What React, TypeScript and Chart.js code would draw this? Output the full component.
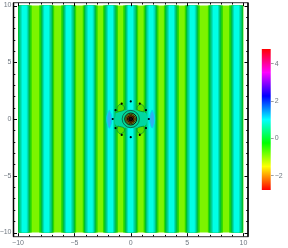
import React, { useEffect, useRef } from "react";
import { Chart, registerables } from "chart.js";

Chart.register(...registerables);

// Stripe centres (plot units)
const cyanCentres = [-9.45, -7.45, -5.5, -3.6, -1.8, 0, 1.8, 3.6, 5.45, 7.5, 9.4];
// Nested contour bands around every cyan centre: half widths and colours (outermost first)
const bandHalfWidths = [0.68, 0.56, 0.46, 0.35, 0.24];
const bandColours = ["#2cdc00", "#00be30", "#00c878", "#00e0b8", "#00ffe6"];
const baseColour = "#7cf400";

// Centre of the plot
const bowtie = [[-1.35, 0.5], [-0.5, 0.78], [0.5, 0.78], [1.35, 0.5], [1.35, -0.5], [0.5, -0.78], [-0.5, -0.78], [-1.35, -0.5]];
const lobes = [
  [[-1.15, 0.62], [-0.6, 0.8], [-0.62, 1.15], [-0.95, 1.3], [-1.2, 1.0]],
  [[1.15, 0.62], [0.6, 0.8], [0.62, 1.15], [0.95, 1.3], [1.2, 1.0]],
  [[-1.15, -0.62], [-0.6, -0.8], [-0.62, -1.15], [-0.95, -1.3], [-1.2, -1.0]],
  [[1.15, -0.62], [0.6, -0.8], [0.62, -1.15], [0.95, -1.3], [1.2, -1.0]],
];
const leftBlob = [[-1.9, 0.8], [-1.71, 0.35], [-1.68, 0], [-1.71, -0.35], [-1.9, -0.8], [-2.09, -0.35], [-2.12, 0], [-2.09, 0.35]];
const rightBlob = [[1.9, 0.8], [2.09, 0.35], [2.12, 0], [2.09, -0.35], [1.9, -0.8], [1.71, -0.35], [1.68, 0], [1.71, 0.35]];
const dotsX = [0, 0.8, -0.8, 1.35, -1.35, 1.6, -1.6, 1.35, -1.35, 0.8, -0.8, 0];
const dotsY = [1.55, 1.35, 1.35, 0.78, 0.78, 0, 0, -0.8, -0.8, -1.4, -1.4, -1.6];

// Concentric rings at the origin
const ringFills = ["#00d890", "#40b040", "#a89000", "#7a3000", "#200808"];
const ringBorders = ["#104030", "#101810", "#403000", "#201000", "#000000"];

// Colour legend
const legendMin = -2.77;
const legendMax = 4.79;
const legendValues = [-2.77, -1.51, -0.25, 1.01, 2.27, 3.53, 4.79];
const legendColours = ["#ff0000", "#ffff00", "#00ff00", "#00ffff", "#0000ff", "#ff00ff", "#ff0000"];

const fmt = (v: number) => String(Math.abs(v)).replace(/^/, v < 0 ? "\u2212" : "");
const FONT = { family: "Liberation Sans", size: 7 };
const GREY = "#707880";

function pinScale(scale: any, size: number, horizontal: boolean) {
  if (horizontal) scale.height = size;
  else scale.width = size;
  scale.paddingLeft = 0;
  scale.paddingRight = 0;
  scale.paddingTop = 0;
  scale.paddingBottom = 0;
}

const framePlugin = {
  id: "frame",
  afterDraw(chart: any) {
    const { ctx, chartArea: a, scales } = chart;
    ctx.save();
    ctx.strokeStyle = "#000";
    ctx.lineWidth = 1;
    const len = (v: number) => (v % 5 === 0 ? 3.5 : 1.8);
    ctx.beginPath();
    for (const t of scales.x.ticks) {
      const p = Math.round(scales.x.getPixelForValue(t.value)) + 0.5;
      ctx.moveTo(p, a.top);
      ctx.lineTo(p, a.top + len(t.value));
      ctx.moveTo(p, a.bottom);
      ctx.lineTo(p, a.bottom - len(t.value));
    }
    for (const t of scales.y.ticks) {
      const p = Math.round(scales.y.getPixelForValue(t.value)) + 0.5;
      ctx.moveTo(a.left, p);
      ctx.lineTo(a.left + len(t.value), p);
      ctx.moveTo(a.right, p);
      ctx.lineTo(a.right - len(t.value), p);
    }
    ctx.stroke();
    ctx.strokeStyle = "#303030";
    ctx.strokeRect(a.left, a.top, a.right - a.left, a.bottom - a.top);
    ctx.lineWidth = 1.5;
    ctx.strokeStyle = "#000";
    ctx.beginPath();
    ctx.moveTo(a.left, a.top);
    ctx.lineTo(a.left, a.bottom);
    ctx.moveTo(a.right, a.top);
    ctx.lineTo(a.right, a.bottom);
    ctx.stroke();
    ctx.restore();
  },
};

function buildDatasets() {
  const list: any[] = [];
  const stripe = (x0: number, x1: number, colour: string) =>
    list.push({
      data: [{ x: Math.max(x0, -10), y: 10 }, { x: Math.min(x1, 10), y: 10 }],
      showLine: true,
      borderWidth: 0,
      pointRadius: 0,
      backgroundColor: colour,
      fill: { value: -10 },
    });
  stripe(-10, 10, baseColour);
  for (const c of cyanCentres) {
    bandHalfWidths.forEach((w, i) => stripe(c - w, c + w, bandColours[i]));
  }
  const shape = (pts: number[][], fillColour: string, line: string, width: number) =>
    list.push({
      data: pts.concat([pts[0]]).map(([x, y]) => ({ x, y })),
      showLine: true,
      borderWidth: width,
      borderColor: line,
      pointRadius: 0,
      tension: 0.35,
      backgroundColor: fillColour,
      fill: "shape",
    });
  shape(bowtie, "#00d8a0", "#00d8a0", 0);
  lobes.forEach((l) => shape(l, "#58e000", "#008c40", 0.8));
  shape(leftBlob, "#30b0f0", "#00d8f0", 1);
  shape(rightBlob, "#30b0f0", "#00d8f0", 1);
  [8.6, 6, 4.6, 3.4, 1.9].forEach((radius, i) =>
    list.push({
      data: [{ x: 0, y: 0 }],
      pointRadius: radius,
      pointBackgroundColor: ringFills[i],
      pointBorderColor: ringBorders[i],
      pointBorderWidth: i === 0 ? 0.7 : 1,
    })
  );
  list.push({
    data: dotsX.map((x, i) => ({ x, y: dotsY[i] })),
    pointRadius: 1.1,
    pointBackgroundColor: "#000",
    pointBorderWidth: 0,
  });
  list.forEach((d, i) => (d.order = list.length - i));
  return list;
}

export default function App() {
  const mainRef = useRef<HTMLCanvasElement>(null);
  const legendRef = useRef<HTMLCanvasElement>(null);

  useEffect(() => {
    const main = new Chart(mainRef.current as any, {
      type: "scatter",
      data: { datasets: buildDatasets() },
      plugins: [framePlugin],
      options: {
        animation: false,
        responsive: false,
        layout: { autoPadding: false, padding: { top: 2.7, right: 40, left: 0, bottom: 0 } },
        plugins: { legend: { display: false }, tooltip: { enabled: false } },
        scales: {
          x: {
            type: "linear",
            min: -10.4,
            max: 10.4,
            grid: { display: false, drawTicks: false },
            border: { display: false },
            afterFit: (s: any) => pinScale(s, 11.3, true),
            ticks: {
              stepSize: 1,
              includeBounds: false,
              autoSkip: false,
              maxRotation: 0,
              padding: 2,
              color: GREY,
              font: FONT,
              callback: (v: any) => (v % 5 === 0 ? fmt(v) : ""),
            },
          },
          y: {
            type: "linear",
            min: -10.37,
            max: 10.25,
            grid: { display: false, drawTicks: false },
            border: { display: false },
            afterFit: (s: any) => pinScale(s, 13.5, false),
            ticks: {
              stepSize: 1,
              includeBounds: false,
              autoSkip: false,
              padding: 2,
              color: GREY,
              font: FONT,
              callback: (v: any) => (v % 5 === 0 ? fmt(v) : ""),
            },
          },
        },
      },
    } as any);

    const legend = new Chart(legendRef.current as any, {
      type: "bar",
      data: {
        labels: ["scale"],
        datasets: [
          {
            data: [[legendMin, legendMax]],
            barPercentage: 1,
            categoryPercentage: 1,
            borderWidth: 0,
            backgroundColor: (ctx: any) => {
              const { chart } = ctx;
              const y = chart.scales.y;
              if (!y || !chart.chartArea) return legendColours[0];
              const g = chart.ctx.createLinearGradient(0, y.getPixelForValue(legendMin), 0, y.getPixelForValue(legendMax));
              legendValues.forEach((v, i) =>
                g.addColorStop((v - legendMin) / (legendMax - legendMin), legendColours[i])
              );
              return g;
            },
          },
        ],
      },
      options: {
        animation: false,
        responsive: false,
        layout: { autoPadding: false, padding: { top: 49, bottom: 58, left: 11.7, right: 0 } },
        plugins: { legend: { display: false }, tooltip: { enabled: false } },
        scales: {
          x: { display: false, grid: { display: false } },
          y: {
            position: "right",
            min: legendMin,
            max: legendMax,
            border: { display: false },
            grid: { drawOnChartArea: false, tickLength: 3, tickColor: "#a0a0a0", tickWidth: 1 },
            afterFit: (s: any) => pinScale(s, 17.3, false),
            ticks: {
              stepSize: 2,
              includeBounds: false,
              padding: 1,
              color: GREY,
              font: FONT,
              callback: (v: any) => fmt(v),
            },
          },
        },
      },
    } as any);

    return () => {
      main.destroy();
      legend.destroy();
    };
  }, []);

  return (
    <div style={{ position: "fixed", left: 0, top: 0, width: 288, height: 248, background: "#fff" }}>
      <canvas ref={mainRef} width={288} height={248} style={{ position: "absolute", left: 0, top: 0 }} />
      <canvas ref={legendRef} width={38} height={248} style={{ position: "absolute", left: 250, top: 0 }} />
    </div>
  );
}
